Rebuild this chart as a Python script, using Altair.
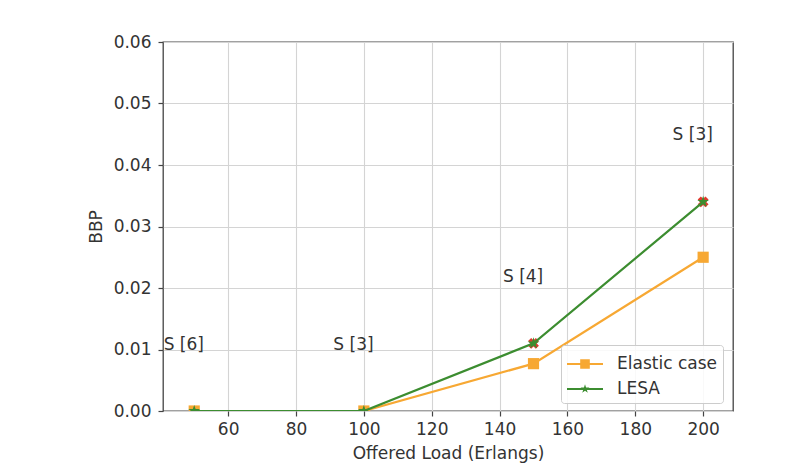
import altair as alt
import pandas as pd

# ---- data ----
load = [50, 100, 150, 200]
elastic = [0.0, 0.0, 0.0077, 0.025]
lesa = [0.0, 0.0, 0.011, 0.034]
red_x = [150, 200]
red_y = [0.011, 0.034]
ann_x = [41, 91, 141, 191]
ann_y = [0.010, 0.010, 0.021, 0.044]
ann_text = ["S [6]", "S [3]", "S [4]", "S [3]"]
series_names = ["Elastic case", "LESA"]
x_ticks = [60, 80, 100, 120, 140, 160, 180, 200]
y_ticks = [0.0, 0.01, 0.02, 0.03, 0.04, 0.05, 0.06]

ORANGE = "#F7A833"
GREEN = "#3C8D30"
RED = "#E03A2F"
FONT = "DejaVu Sans"
FS = 17

df_el = pd.DataFrame({"load": load, "bbp": elastic, "series": series_names[0]})
df_le = pd.DataFrame({"load": load, "bbp": lesa, "series": series_names[1]})
df_all = pd.concat([df_el, df_le], ignore_index=True)
df_red = pd.DataFrame({"load": red_x, "bbp": red_y})
df_ann = pd.DataFrame({"load": ann_x, "bbp": ann_y, "label": ann_text})

STAR_PTS = [(0, -1), (0.2245, -0.309), (0.951, -0.309), (0.3633, 0.118), (0.5878, 0.809),
            (0, 0.382), (-0.5878, 0.809), (-0.3633, 0.118), (-0.951, -0.309), (-0.2245, -0.309)]


def star_path(r, dx=0.0):
    return "M" + "L".join(f"{px * r + dx:.4f},{py * r:.4f}" for px, py in STAR_PTS) + "Z"


STAR = star_path(1.0)
# legend glyphs: a short line with the marker in its middle (units of 13px)
LINE_SEG = "M-1,-0.077H1.769V0.077H-1Z"
MC = 0.385
LEG_SQUARE = LINE_SEG + f"M{MC - 0.37:.3f},-0.37H{MC + 0.37:.3f}V0.37H{MC - 0.37:.3f}Z"
LEG_STAR = LINE_SEG + star_path(0.36, MC)

xs = alt.Scale(domain=[40.8, 208.8], nice=False, zero=False)
ys = alt.Scale(domain=[0, 0.06], nice=False)

X = alt.X("load:Q", scale=xs,
          axis=alt.Axis(values=x_ticks, title="Offered Load (Erlangs)", labelFlush=False))
Y = alt.Y("bbp:Q", scale=ys,
          axis=alt.Axis(values=y_ticks, format=".2f", title="BBP"))

base_el = alt.Chart(df_el).encode(x=X, y=Y)
base_le = alt.Chart(df_le).encode(x=X, y=Y)

el_line = base_el.mark_line(color=ORANGE, strokeWidth=2.2, clip=True)
el_pts = base_el.mark_point(shape="square", filled=True, size=125, color=ORANGE, opacity=1, clip=True)
red_pts = alt.Chart(df_red).mark_point(shape="cross", angle=45, filled=True, size=120,
                                       color=RED, opacity=1, clip=True).encode(x=X, y=Y)
le_line = base_le.mark_line(color=GREEN, strokeWidth=2.2, clip=True)
le_pts = base_le.mark_point(shape=STAR, filled=True, size=150, color=GREEN, opacity=1, clip=True)

leg = alt.Legend(orient="none", legendX=398, legendY=303, title=None,
                 padding=6, fillColor="rgba(255,255,255,0.85)", strokeColor="#cccccc",
                 cornerRadius=3, symbolSize=676, labelFontSize=FS, labelOffset=24,
                 rowPadding=4, symbolStrokeWidth=0, symbolOpacity=1,
                 labelColor="#333333", labelFont=FONT)

legend_layer = alt.Chart(df_all).mark_point(filled=True, opacity=0).encode(
    x=X, y=Y,
    color=alt.Color("series:N", scale=alt.Scale(domain=series_names, range=[ORANGE, GREEN]), legend=leg),
    shape=alt.Shape("series:N", scale=alt.Scale(domain=series_names, range=[LEG_SQUARE, LEG_STAR]), legend=leg),
)

ann = alt.Chart(df_ann).mark_text(align="left", baseline="alphabetic", fontSize=FS,
                                   color="#333333", font=FONT).encode(x=X, y=Y, text="label:N")

chart = alt.layer(el_line, el_pts, red_pts, le_line, le_pts, legend_layer, ann).properties(
    width=570, height=369,
    autosize=alt.AutoSizeParams(type="none"),
    padding={"left": 155, "top": 34, "right": 40, "bottom": 55},
).configure(font=FONT).configure_view(
    stroke="#444444", strokeWidth=1.3
).configure_axis(
    labelFontSize=FS, titleFontSize=FS, titleFontWeight="normal",
    labelColor="#333333", titleColor="#333333", labelFont=FONT, titleFont=FONT,
    tickColor="#444444", tickSize=5, tickWidth=1.2, domain=False,
    gridColor="#d4d4d4", gridWidth=1.1,
).configure_axisX(labelPadding=5, titlePadding=8).configure_axisY(labelPadding=7, titlePadding=8)

chart.save("out.html", embed_options={"renderer": "svg", "actions": False})
